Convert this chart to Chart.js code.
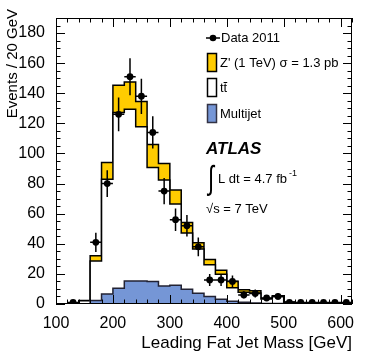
<!DOCTYPE html>
<html><head><meta charset="utf-8">
<script src="https://cdn.jsdelivr.net/npm/chart.js@4.4.1/dist/chart.umd.min.js"></script>
<style>html,body{margin:0;padding:0;background:#fff;}canvas{display:block;}</style>
</head><body>
<canvas id="c" width="374" height="359"></canvas>
<script>
// ---- data ----
const binLow = [100,120,140,160,180,200,220,240,260,280,300,320,340,360,380,400,420,440,460,480,500,520,540,560,580,600];
const binWidth = 20;
const multijet = [0,0,0,2.4,6.6,10.4,15.3,15.3,15.0,12.0,12.4,9.8,7.1,4.9,3.1,1.8,1.1,0.6,0.4,0.3,0.2,0.1,0.1,0.1,0.1,0.1];
const ttbar    = [0,0,2.2,26.1,76.2,116.9,114.0,102.4,75.7,70.3,54.0,37.3,29.4,21.2,16.6,9.0,6.7,6.7,2.9,4.7,1.0,0.7,0.4,0.4,0.3,0.3];
const zprime   = [0,0,0.1,3.5,11.2,18.1,18.1,16.9,15.3,11.1,9.3,7.1,4.2,3.5,2.7,4.3,1.7,1.5,0.4,0.4,0.2,0.1,0.1,0.1,0.1,0.1];
const dataCounts = [null,1,null,41,80,126,151,138,114,75,56,52,38,16,16,15,6,7,4,5,1,1,1,1,1,1];
const dataErr    = [0,1,0,6.4,8.9,11.2,12.3,11.7,10.7,8.7,7.5,7.2,6.2,4.0,4.0,3.9,2.4,2.6,2.0,2.2,1,1,1,1,1,1];
const xTicks = [100,200,300,400,500,600];
const yTicks = [0,20,40,60,80,100,120,140,160,180];
const xTitle = 'Leading Fat Jet Mass [GeV]';
const yTitle = 'Events / 20 GeV';
const legendLabels = ['Data 2011', "Z' (1 TeV) \u03C3 = 1.3 pb", 'tt', 'Multijet'];

const FONT = "'Liberation Sans', Arial, Helvetica, sans-serif";
const YELLOW = '#ffcc00';
const BLUE = '#7596d6';

function stepPoints(vals) {
  const pts = binLow.map((x, i) => ({x: x, y: vals[i]}));
  pts.push({x: binLow[binLow.length - 1] + binWidth, y: vals[vals.length - 1]});
  return pts;
}
const dataPoints = binLow.map((x, i) => ({x: x + binWidth / 2, y: dataCounts[i]}));

const histStyle = {type: 'line', stepped: true, tension: 0, pointRadius: 0, borderWidth: 1.5,
  borderColor: '#000', stack: 'bg', borderJoinStyle: 'miter'};

const frameTicks = {
  id: 'frameTicks',
  afterDatasetsDraw(chart) {
    const {ctx, chartArea: {left, right, top, bottom}, scales: {x, y}} = chart;
    ctx.save();
    // error bars
    ctx.strokeStyle = '#000';
    ctx.lineWidth = 1.5;
    ctx.beginPath();
    binLow.forEach((b, i) => {
      const v = dataCounts[i];
      if (v === null) return;
      const cx = x.getPixelForValue(b + binWidth / 2);
      const cy = y.getPixelForValue(v);
      const x0 = x.getPixelForValue(b), x1 = x.getPixelForValue(b + binWidth);
      ctx.moveTo(x0, cy); ctx.lineTo(x1, cy);
      const ytop = y.getPixelForValue(v + dataErr[i]);
      const ybot = y.getPixelForValue(Math.max(0, v - dataErr[i]));
      ctx.moveTo(cx, ytop); ctx.lineTo(cx, ybot);
    });
    ctx.stroke();
    // frame
    ctx.lineWidth = 1;
    ctx.strokeRect(Math.round(left) + 0.5, Math.round(top) + 0.5, Math.round(right - left) - 1, Math.round(bottom - top) - 1);
    ctx.beginPath();
    for (let v = y.min; v <= y.max + 1e-9; v += 5) {
      const py = Math.round(y.getPixelForValue(v)) + 0.5;
      const len = (Math.round(v) % 20 === 0) ? 9 : 4.5;
      ctx.moveTo(left, py); ctx.lineTo(left + len, py);
      ctx.moveTo(right, py); ctx.lineTo(right - len, py);
    }
    for (let v = x.min; v <= x.max + 1e-9; v += 20) {
      const px = Math.round(x.getPixelForValue(v)) + 0.5;
      const len = (Math.round(v) % 100 === 0) ? 9 : 4.5;
      ctx.moveTo(px, bottom); ctx.lineTo(px, bottom - len);
      ctx.moveTo(px, top); ctx.lineTo(px, top + len);
    }
    ctx.stroke();
    ctx.restore();
  }
};

const annotations = {
  id: 'annotations',
  afterDraw(chart) {
    const ctx = chart.ctx;
    ctx.save();
    ctx.fillStyle = '#000';
    ctx.strokeStyle = '#000';
    // y title
    ctx.save();
    ctx.translate(13, 9);
    ctx.rotate(-Math.PI / 2);
    ctx.font = `15px ${FONT}`;
    ctx.textAlign = 'right';
    ctx.textBaseline = 'middle';
    ctx.fillText(yTitle, 0, 0);
    ctx.restore();

    // legend
    ctx.font = `13px ${FONT}`;
    ctx.textAlign = 'left';
    ctx.textBaseline = 'middle';
    ctx.lineWidth = 1.5;
    ctx.beginPath(); ctx.moveTo(206, 38); ctx.lineTo(220, 38); ctx.stroke();
    ctx.beginPath(); ctx.arc(213, 38, 3.3, 0, Math.PI * 2); ctx.fill();
    ctx.fillText(legendLabels[0], 221, 38);
    const boxes = [[53.5, YELLOW, '#000'], [78.5, '#fff', '#000'], [104.5, BLUE, '#334']];
    boxes.forEach(([by, fill, stroke], i) => {
      ctx.fillStyle = fill;
      ctx.fillRect(207.5, by, 9, 18);
      ctx.strokeStyle = stroke;
      ctx.lineWidth = 1.5;
      ctx.strokeRect(207.5, by, 9, 18);
      ctx.fillStyle = '#000';
      ctx.fillText(legendLabels[i + 1], 220, by + 9.5);
    });
    // bar over second t
    const tw = ctx.measureText('t').width;
    ctx.strokeStyle = '#000';
    ctx.lineWidth = 1;
    ctx.beginPath(); ctx.moveTo(220 + tw, 82.5); ctx.lineTo(220 + 2 * tw, 82.5); ctx.stroke();

    // ATLAS label
    ctx.font = `italic bold 17px ${FONT}`;
    ctx.textBaseline = 'alphabetic';
    ctx.fillText('ATLAS', 206, 154);
    // integral
    ctx.save();
    ctx.translate(208, 189);
    ctx.scale(1, 1.5);
    ctx.font = `22px ${FONT}`;
    ctx.fillText('\u222B', 0, 0);
    ctx.restore();
    ctx.font = `13px ${FONT}`;
    ctx.fillText('L dt = 4.7 fb', 218, 183);
    ctx.font = `9px ${FONT}`;
    ctx.fillText('-1', 289, 176);
    ctx.font = `13px ${FONT}`;
    ctx.fillText('\u221As = 7 TeV', 206, 212.5);
    ctx.restore();
  }
};

new Chart(document.getElementById('c'), {
  data: {
    datasets: [
      Object.assign({}, histStyle, {label: 'Multijet', data: stepPoints(multijet), backgroundColor: BLUE, borderColor: '#223', fill: 'origin', order: 1}),
      Object.assign({}, histStyle, {label: 'ttbar', data: stepPoints(ttbar), backgroundColor: '#fff', fill: '-1', order: 2}),
      Object.assign({}, histStyle, {label: 'Zprime', data: stepPoints(zprime), backgroundColor: YELLOW, fill: '-1', order: 3}),
      {type: 'line', label: 'Data 2011', data: dataPoints, showLine: false, stack: 'data', order: 0,
        pointRadius: 3.4, pointBackgroundColor: '#000', pointBorderWidth: 0, pointBorderColor: '#000'}
    ]
  },
  options: {
    responsive: false,
    animation: false,
    devicePixelRatio: 1,
    layout: {padding: {top: 18, right: 22, left: 0, bottom: 0}},
    plugins: {legend: {display: false}, tooltip: {enabled: false}},
    scales: {
      x: {
        type: 'linear', min: 100, max: 620,
        grid: {display: false}, border: {display: false},
        afterBuildTicks: s => { s.ticks = xTicks.map(v => ({value: v})); },
        afterFit: s => { s.height = 55; },
        ticks: {color: '#000', font: {size: 16, family: FONT}, padding: 2, maxRotation: 0, autoSkip: false},
        title: {display: true, text: xTitle, align: 'end', color: '#000', font: {size: 17, family: FONT}, padding: {top: 0, bottom: 5}}
      },
      y: {
        type: 'linear', min: 0, max: 190, stacked: true,
        grid: {display: false}, border: {display: false},
        afterBuildTicks: s => { s.ticks = yTicks.map(v => ({value: v})); },
        afterFit: s => { s.width = 56; },
        ticks: {color: '#000', font: {size: 16, family: FONT}, padding: 3, autoSkip: false}
      }
    }
  },
  plugins: [frameTicks, annotations]
});
</script>
</body></html>
